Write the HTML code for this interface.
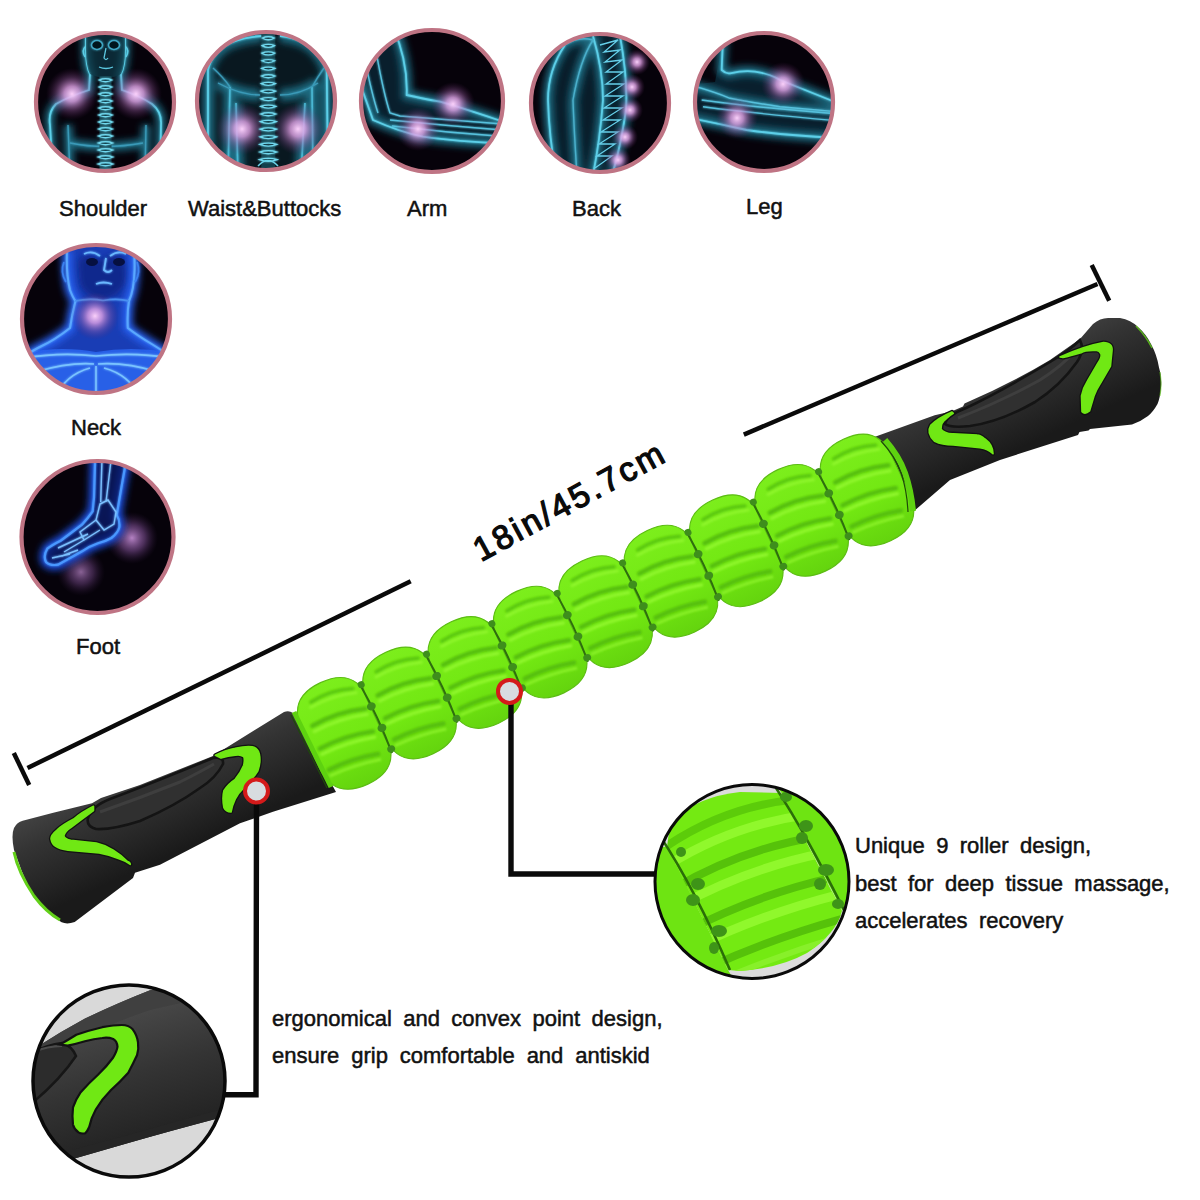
<!DOCTYPE html>
<html><head><meta charset="utf-8">
<style>
html,body{margin:0;padding:0;background:#fff;width:1200px;height:1200px;overflow:hidden}
svg{display:block;position:absolute;left:0;top:0}
text{font-family:"Liberation Sans",sans-serif;fill:#111}
</style></head><body>
<svg width="1200" height="1200" viewBox="0 0 1200 1200">
<defs>
  <filter id="glow" x="-50%" y="-50%" width="200%" height="200%"><feGaussianBlur stdDeviation="1.6" result="b"/><feMerge><feMergeNode in="b"/><feMergeNode in="SourceGraphic"/></feMerge></filter>
  <filter id="soft" x="-50%" y="-50%" width="200%" height="200%"><feGaussianBlur stdDeviation="3"/></filter>
  <radialGradient id="pink"><stop offset="0" stop-color="#f0b0f0" stop-opacity="1"/><stop offset="0.35" stop-color="#c880c8" stop-opacity="0.75"/><stop offset="1" stop-color="#80306a" stop-opacity="0"/></radialGradient>
  <clipPath id="c1"><circle cx="105" cy="102" r="68"/></clipPath>
  <clipPath id="c2"><circle cx="266" cy="101" r="68"/></clipPath>
  <clipPath id="c3"><circle cx="432" cy="101" r="70"/></clipPath>
  <clipPath id="c4"><circle cx="600" cy="103" r="68"/></clipPath>
  <clipPath id="c5"><circle cx="764" cy="102" r="68"/></clipPath>
  <clipPath id="c6"><circle cx="96" cy="319" r="73"/></clipPath>
  <clipPath id="c7"><circle cx="97.5" cy="537" r="75"/></clipPath>
  <clipPath id="zl"><circle cx="129" cy="1081" r="96"/></clipPath>
  <clipPath id="zrc"><path d="M667.5,848 Q667,830 677,818 Q697,797 740,792 L781,793 L842,911 Q836,934 807,953 Q780,968 740,971 L728,970 Z"/></clipPath>
  <clipPath id="zr"><circle cx="752" cy="881.5" r="97"/></clipPath>

  <linearGradient id="hgrad" x1="0" y1="0" x2="0" y2="1">
    <stop offset="0" stop-color="#3a3a3a"/><stop offset="0.45" stop-color="#2a2a2a"/><stop offset="1" stop-color="#1c1c1c"/>
  </linearGradient>
  <linearGradient id="rg" x1="0" y1="0" x2="0" y2="1"><stop offset="0" stop-color="#7cee1c"/><stop offset="0.6" stop-color="#72e812"/><stop offset="1" stop-color="#64d40e"/></linearGradient>
  <g id="seam"><path d="M35,-38 Q38,0 35,38" fill="none" stroke="#2e6e0e" stroke-width="2"/>
    <g fill="#3e8e1c">
      <ellipse cx="36" cy="-37" rx="3.5" ry="3.5"/><ellipse cx="36" cy="-13" rx="4.5" ry="4"/><ellipse cx="36.5" cy="11" rx="4.5" ry="4"/><ellipse cx="36" cy="34" rx="4" ry="3.5"/>
    </g></g>
  <g id="roller">
    <path d="M-37,-20 C-37,-47 -22,-56 0,-56 C22,-56 37,-47 37,-20 L37,20 C37,47 22,56 0,56 C-22,56 -37,47 -37,20 Z" fill="url(#rg)" stroke="#5cbc14" stroke-width="1.2"/>
    <g fill="none" stroke-linecap="round" transform="rotate(7)" filter="url(#gb)">
      <path d="M-22,-40 Q0,-46 22,-40" stroke="#5ac80a" stroke-width="3.5"/>
      <path d="M-24,-35 Q0,-40 24,-35" stroke="#92f82e" stroke-width="2.5"/>
      <path d="M-28,-17 Q0,-23 28,-17" stroke="#56c00a" stroke-width="4.5"/>
      <path d="M-28,-11 Q0,-16 28,-11" stroke="#92f82e" stroke-width="3"/>
      <path d="M-28,7 Q0,2 28,7" stroke="#56c00a" stroke-width="4.5"/>
      <path d="M-28,13 Q0,9 28,13" stroke="#92f82e" stroke-width="3"/>
      <path d="M-26,30 Q0,26 26,30" stroke="#56c00a" stroke-width="4.5"/>
      <path d="M-26,36 Q0,33 26,36" stroke="#8ef42c" stroke-width="2.5"/>
    </g>
    
  </g>

  <radialGradient id="pk2"><stop offset="0" stop-color="#fad0fa" stop-opacity="1"/><stop offset="0.3" stop-color="#e0a0e4" stop-opacity="0.8"/><stop offset="0.65" stop-color="#a060a8" stop-opacity="0.35"/><stop offset="1" stop-color="#602060" stop-opacity="0"/></radialGradient>
  <radialGradient id="tealbody" cx="0.5" cy="0.4" r="0.6"><stop offset="0" stop-color="#14505e"/><stop offset="1" stop-color="#082028"/></radialGradient>
  <filter id="cg" x="-30%" y="-30%" width="160%" height="160%"><feGaussianBlur stdDeviation="1.2" result="b"/><feMerge><feMergeNode in="b"/><feMergeNode in="SourceGraphic"/></feMerge></filter>

  <filter id="wide" x="-30%" y="-30%" width="160%" height="160%"><feGaussianBlur stdDeviation="3.5"/></filter>

  <radialGradient id="faceg" cx="0.5" cy="0.45" r="0.55"><stop offset="0" stop-color="#0c1c6a"/><stop offset="0.7" stop-color="#1a3ab8"/><stop offset="1" stop-color="#2f6ae8"/></radialGradient>
  <linearGradient id="chestg" x1="0" y1="0" x2="0" y2="1"><stop offset="0" stop-color="#2a60e0"/><stop offset="1" stop-color="#1436a8"/></linearGradient>
  <radialGradient id="pk3"><stop offset="0" stop-color="#c890d8" stop-opacity="0.9"/><stop offset="0.5" stop-color="#905aa8" stop-opacity="0.5"/><stop offset="1" stop-color="#402050" stop-opacity="0"/></radialGradient>
  <filter id="gb" x="-20%" y="-20%" width="140%" height="140%"><feGaussianBlur stdDeviation="0.9"/></filter>
  <linearGradient id="lh" gradientUnits="userSpaceOnUse" x1="149" y1="755" x2="191" y2="845"><stop offset="0" stop-color="#444444"/><stop offset="0.35" stop-color="#333333"/><stop offset="0.7" stop-color="#262626"/><stop offset="1" stop-color="#1a1a1a"/></linearGradient>
  <linearGradient id="rh" gradientUnits="userSpaceOnUse" x1="989" y1="352" x2="1031" y2="443"><stop offset="0" stop-color="#444444"/><stop offset="0.35" stop-color="#333333"/><stop offset="0.7" stop-color="#262626"/><stop offset="1" stop-color="#1a1a1a"/></linearGradient>
  <linearGradient id="zg" gradientUnits="userSpaceOnUse" x1="110" y1="1010" x2="150" y2="1140"><stop offset="0" stop-color="#4a4a4a"/><stop offset="0.5" stop-color="#343434"/><stop offset="1" stop-color="#222222"/></linearGradient>
</defs>

<!-- ===== BODY CIRCLES ===== -->
<g id="bodies">
  <circle cx="105" cy="102" r="69.5" fill="#06020a"/>
  <circle cx="266" cy="101" r="69.5" fill="#06020a"/>
  <circle cx="432" cy="101" r="71.5" fill="#06020a"/>
  <circle cx="600" cy="103" r="69.5" fill="#06020a"/>
  <circle cx="764" cy="102" r="69.5" fill="#06020a"/>
  <circle cx="96" cy="319" r="74.5" fill="#06020a"/>
  <circle cx="97.5" cy="537" r="76.5" fill="#06020a"/>

  <!-- 1 shoulder -->
  <g clip-path="url(#c1)">
    <g fill="none" stroke="#1e6a80" stroke-width="9" filter="url(#wide)">
      <path d="M86,34 L86,50 Q86,66 90,74 L89,90 Q70,96 56,104 Q48,112 50,125 L53,175 M125,34 L125,50 Q125,66 121,74 L122,90 Q140,96 152,104 Q162,112 161,125 L160,175 M68,125 L70,175 M146,125 L145,175 M70,143 Q104,150 143,143"/>
    </g>
    <g fill="none" stroke="#5ccfe8" stroke-width="1.8" filter="url(#cg)">
      <path d="M86,30 L86,50 Q86,66 90,74 L89,90 Q70,96 56,104 Q48,112 50,125 L53,175 M125,30 L125,50 Q125,66 121,74 L122,90 Q140,96 152,104 Q162,112 161,125 L160,175"/>
      <path d="M68,125 L70,175 M146,125 L145,175 M70,143 Q104,150 143,143" stroke="#3a9ab8" stroke-width="1.4"/>
      <path d="M86,46 Q81,50 85,57 M125,46 Q130,50 126,57" stroke-width="1.4"/>
    </g>
    <path d="M86,30 L86,50 Q86,66 90,74 Q98,78 106,78 Q114,78 121,74 Q125,66 125,50 L125,30 Z" fill="#0e3a48" opacity="0.7"/>
    <g fill="#06141a" stroke="#3fa8c4" stroke-width="1.6" filter="url(#cg)">
      <ellipse cx="97" cy="45" rx="5.5" ry="4.5"/><ellipse cx="114" cy="45" rx="5.5" ry="4.5"/>
    </g>
    <path d="M106,48 L104,58 Q106,61 108,58 M99,67 Q106,70 113,67" fill="none" stroke="#5cc8e0" stroke-width="1.3"/>
    <circle cx="72" cy="94" r="26" fill="url(#pk2)"/><circle cx="136" cy="94" r="26" fill="url(#pk2)"/>
    <path d="M105.5,76 L105.5,172" stroke="#12404c" stroke-width="12"/><g fill="#12404c" stroke="#70d8ee" stroke-width="1.3" filter="url(#cg)"><path d="M99.0,80.0 Q105.5,77.5 112.0,80.0 Q105.5,83.5 99.0,80.0 Z"/><path d="M98.9,87.0 Q105.5,84.5 112.1,87.0 Q105.5,90.5 98.9,87.0 Z"/><path d="M98.8,94.0 Q105.5,91.5 112.2,94.0 Q105.5,97.5 98.8,94.0 Z"/><path d="M98.7,101.0 Q105.5,98.5 112.3,101.0 Q105.5,104.5 98.7,101.0 Z"/><path d="M98.6,108.0 Q105.5,105.5 112.4,108.0 Q105.5,111.5 98.6,108.0 Z"/><path d="M98.5,115.0 Q105.5,112.5 112.5,115.0 Q105.5,118.5 98.5,115.0 Z"/><path d="M98.4,122.0 Q105.5,119.5 112.6,122.0 Q105.5,125.5 98.4,122.0 Z"/><path d="M98.3,129.0 Q105.5,126.5 112.7,129.0 Q105.5,132.5 98.3,129.0 Z"/><path d="M98.2,136.0 Q105.5,133.5 112.8,136.0 Q105.5,139.5 98.2,136.0 Z"/><path d="M98.1,143.0 Q105.5,140.5 112.9,143.0 Q105.5,146.5 98.1,143.0 Z"/><path d="M98.0,150.0 Q105.5,147.5 113.0,150.0 Q105.5,153.5 98.0,150.0 Z"/><path d="M97.9,157.0 Q105.5,154.5 113.1,157.0 Q105.5,160.5 97.9,157.0 Z"/><path d="M97.8,164.0 Q105.5,161.5 113.2,164.0 Q105.5,167.5 97.8,164.0 Z"/><path d="M97.7,171.0 Q105.5,168.5 113.3,171.0 Q105.5,174.5 97.7,171.0 Z"/></g>
  </g>

  <!-- 2 waist -->
  <g clip-path="url(#c2)">
    <path d="M200,180 L208,70 Q212,52 230,43 Q245,37 262,36 L274,36 Q292,37 303,41.7 Q320,50 326.7,70 L332,180 Z" fill="#0a1e26" opacity="0.8"/>
    <g fill="none" stroke="#1e6a80" stroke-width="12" filter="url(#wide)">
      <path d="M208,175 L208,70 Q212,52 230,43 Q245,37 262,36 M328,175 L326.7,70 Q320,50 303,41.7 Q292,37 280,36 M230,87 L228,175 M312,87 L313,175 M236,103 L238,175 M305,103 L301,175 M218,83 Q240,95 260,95 M318,83 Q300,95 280,95"/>
    </g>
    <g fill="none" stroke="#5ccfe8" stroke-width="1.8" filter="url(#cg)">
      <path d="M208,175 L208,70 Q212,52 230,43 Q245,37 262,36 M328,175 L326.7,70 Q320,50 303,41.7 Q292,37 280,36"/>
      <path d="M230,87 L228,175 M312,87 L313,175 M236,103 L238,175 M305,103 L301,175" stroke="#4ab8d4" stroke-width="1.6"/>
      <path d="M218,83 Q240,95 260,95 M318,83 Q300,95 280,95 M213,68 Q224,78 230,87 M324,68 Q317,78 312,87" stroke="#3a9ab8" stroke-width="1.4"/>
    </g>
    <circle cx="242" cy="129" r="26" fill="url(#pk2)"/><circle cx="298" cy="129" r="26" fill="url(#pk2)"/>
    <path d="M268.3,34 L268.3,168" stroke="#12404c" stroke-width="14"/>
    <g fill="#12404c" stroke="#70d8ee" stroke-width="1.3" filter="url(#cg)"><path d="M262.3,38.0 Q268.3,35.5 274.3,38.0 Q268.3,41.5 262.3,38.0 Z"/><path d="M262.1,45.6 Q268.3,43.1 274.5,45.6 Q268.3,49.1 262.1,45.6 Z"/><path d="M261.9,53.2 Q268.3,50.7 274.7,53.2 Q268.3,56.7 261.9,53.2 Z"/><path d="M261.8,60.8 Q268.3,58.3 274.8,60.8 Q268.3,64.3 261.8,60.8 Z"/><path d="M261.6,68.4 Q268.3,65.9 275.0,68.4 Q268.3,71.9 261.6,68.4 Z"/><path d="M261.4,76.0 Q268.3,73.5 275.2,76.0 Q268.3,79.5 261.4,76.0 Z"/><path d="M261.2,83.6 Q268.3,81.1 275.4,83.6 Q268.3,87.1 261.2,83.6 Z"/><path d="M261.0,91.2 Q268.3,88.7 275.6,91.2 Q268.3,94.7 261.0,91.2 Z"/><path d="M260.9,98.8 Q268.3,96.3 275.7,98.8 Q268.3,102.3 260.9,98.8 Z"/><path d="M260.7,106.4 Q268.3,103.9 275.9,106.4 Q268.3,109.9 260.7,106.4 Z"/><path d="M260.5,114.0 Q268.3,111.5 276.1,114.0 Q268.3,117.5 260.5,114.0 Z"/><path d="M260.3,121.6 Q268.3,119.1 276.3,121.6 Q268.3,125.1 260.3,121.6 Z"/><path d="M260.1,129.2 Q268.3,126.7 276.5,129.2 Q268.3,132.7 260.1,129.2 Z"/><path d="M260.0,136.8 Q268.3,134.3 276.6,136.8 Q268.3,140.3 260.0,136.8 Z"/><path d="M259.8,144.4 Q268.3,141.9 276.8,144.4 Q268.3,147.9 259.8,144.4 Z"/><path d="M259.6,152.0 Q268.3,149.5 277.0,152.0 Q268.3,155.5 259.6,152.0 Z"/><path d="M259.4,159.6 Q268.3,157.1 277.2,159.6 Q268.3,163.1 259.4,159.6 Z"/></g>
    <path d="M258,166 Q268,155 278,166" fill="none" stroke="#6ad4ea" stroke-width="1.5"/>
  </g>

  <!-- 3 arm -->
  <g clip-path="url(#c3)">
    <path d="M392,25 Q408,60 406.7,95 Q420,98 440,101.7 Q456,106 498,120 L515,124 L515,144 Q460,142 423,136.7 Q400,132 373,120 Q366,100 358,78 L350,25 Z" fill="#0c3444" opacity="0.6"/>
    <g fill="none" stroke="#1e6a80" stroke-width="10" filter="url(#wide)">
      <path d="M395,30 Q408,60 406.7,95 Q420,98 440,101.7 Q456,106 498,120 L515,124 M360,80 Q368,100 373,120 Q400,132 423,136.7 Q460,142 515,144"/>
    </g>
    <g fill="none" stroke="#5ccfe8" stroke-width="1.8" filter="url(#cg)">
      <path d="M392,25 Q408,60 406.7,95 Q420,98 440,101.7 Q456,106 498,120 L515,124 M358,78 Q366,100 373,120 Q400,132 423,136.7 Q460,142 515,144"/>
      <path d="M365,60 Q372,95 378,113 M376.7,55 Q384,95 390,113 L400,116 Q450,120 515,125 M390,120 Q450,126 515,131 M392,126 Q450,133 510,137" stroke="#56c0dc" stroke-width="1.4"/>
    </g>
    <circle cx="453" cy="104" r="22" fill="url(#pk2)"/><circle cx="418" cy="129" r="22" fill="url(#pk2)"/>
  </g>

  <!-- 4 back -->
  <g clip-path="url(#c4)">
    <path d="M565,45 Q548,70 548,100 Q549,136 556,175 L612,175 Q620,150 626,110 Q628,80 620,30 L590,30 Q575,36 565,45 Z" fill="#0c3040" opacity="0.6"/>
    <g fill="none" stroke="#1e6a80" stroke-width="10" filter="url(#wide)">
      <path d="M565,45 Q548,70 548,100 Q549,136 556,175 M573,100 Q574,130 577,175 M593,36 Q603,70 603,100 Q600,140 593,175 M620,36 Q628,80 626,110 Q620,150 612,175 M565,45 Q578,36 593,40 Q580,60 573,100"/>
    </g>
    <g fill="none" stroke="#5ccfe8" stroke-width="1.8" filter="url(#cg)">
      <path d="M565,45 Q548,70 548,100 Q549,136 556,175 M593,36 Q603,70 603,100 Q600,140 593,175 M620,36 Q628,80 626,110 Q620,150 612,175"/>
      <path d="M573,100 Q574,130 577,175 M565,45 Q578,36 593,40 Q580,60 573,100" stroke="#4ab0cc" stroke-width="1.4"/>
    </g>
    <g stroke="#66d0ea" stroke-width="1.3" fill="none">
      <path d="M600,45 L618,40 L604,52 L620,50 L605,62 L622,60 L606,72 L623,72 L606,84 L624,84 L605,96 L623,96 L604,108 L622,108 L603,120 L620,120 L601,132 L618,132 L599,144 L615,144 L597,156 L612,156 L595,168"/>
    </g>
    <circle cx="637" cy="62" r="13" fill="url(#pk2)"/><circle cx="632" cy="87" r="13" fill="url(#pk2)"/><circle cx="630" cy="110" r="13" fill="url(#pk2)"/><circle cx="625" cy="137" r="13" fill="url(#pk2)"/><circle cx="618" cy="160" r="13" fill="url(#pk2)"/>
  </g>

  <!-- 5 leg -->
  <g clip-path="url(#c5)">
    <path d="M723,40 Q722,60 721.7,70 Q726,74 730,73.3 Q745,70 755,71.7 Q770,74 780,80 Q810,92 840,104 L840,138 Q790,136 746.7,130 Q720,124 690,118 L690,85 L715,82 Z" fill="#0c3444" opacity="0.6"/>
    <g fill="none" stroke="#1e6a80" stroke-width="10" filter="url(#wide)">
      <path d="M723,40 Q722,60 721.7,70 Q726,74 730,73.3 Q745,70 755,71.7 Q770,74 780,80 Q810,92 840,104 M690,85 Q715,92 730,98.3 Q760,104 780,106.7 L840,112 M690,118 Q720,124 746.7,130 Q790,136 840,138"/>
    </g>
    <g fill="none" stroke="#5ccfe8" stroke-width="1.8" filter="url(#cg)">
      <path d="M723,40 Q722,60 721.7,70 Q726,74 730,73.3 Q745,70 755,71.7 Q770,74 780,80 Q810,92 840,104 M690,118 Q720,124 746.7,130 Q790,136 840,138"/>
      <path d="M690,85 Q715,92 730,98.3 Q760,104 780,106.7 L840,112 M701.7,100 Q760,108 840,114 M703,106.7 Q760,114 840,121" stroke="#56c0dc" stroke-width="1.4"/>
    </g>
    <circle cx="783" cy="84" r="22" fill="url(#pk2)"/><circle cx="737" cy="118" r="21" fill="url(#pk2)"/>
  </g>

  <!-- 6 neck -->
  <g clip-path="url(#c6)">
    <path d="M67,250 Q66,275 70,290 Q73,298 75.5,301 Q72,315 70,328 Q55,340 39.8,347 Q30,352 15,362 L15,400 L180,400 L178,362 Q165,352 152.5,344.5 Q138,336 127.8,328 Q127,312 129,301 Q134,290 134.6,270 Q135,255 133,244 L70,244 Z" fill="#1c44c8" opacity="0.9"/>
    <path d="M78,262 Q86,252 92,256 Q100,262 106,258 Q114,252 122,258 Q128,266 126,282 Q120,296 103,300 Q86,298 80,284 Z" fill="#0e2480" opacity="0.75" filter="url(#soft)"/>
    <path d="M15,354 Q60,345 96,352 Q135,345 180,354 L180,400 L15,400 Z" fill="#2a64ec" opacity="0.9"/>
    <g fill="none" stroke="#2860f0" stroke-width="10" filter="url(#wide)">
      <path d="M67,250 Q66,275 70,290 Q73,298 75.5,301 Q72,315 70,328 Q55,340 39.8,347 Q30,352 15,362 M133,244 Q135,255 134.6,270 Q134,290 129,301 Q127,312 127.8,328 Q138,336 152.5,344.5 Q165,352 178,362"/>
    </g>
    <g fill="none" stroke="#5aa8ff" stroke-width="2" filter="url(#cg)">
      <path d="M67,250 Q66,275 70,290 Q73,298 75.5,301 Q72,315 70,328 Q55,340 39.8,347 Q30,352 15,362 M133,244 Q135,255 134.6,270 Q134,290 129,301 Q127,312 127.8,328 Q138,336 152.5,344.5 Q165,352 178,362"/>
      <path d="M25,358 Q60,352 96,356 Q135,352 170,358 M35,372 Q70,362 94,364 M158,372 Q125,362 98,364 M55,398 Q65,375 90,368 M140,398 Q130,375 104,368 M96,366 L96,400" stroke="#7ac4ff" stroke-width="1.6"/>
      <path d="M75,301 Q90,298 103,300.5 Q118,298 129,301" stroke="#4a90f0" stroke-width="1.6"/>
    </g>
    <g fill="none" stroke="#6ab8ff" stroke-width="1.8" filter="url(#cg)">
      <path d="M84,254 Q92,250 100,256 M110,256 Q118,250 126,254 M106,258 L104,270 Q108,274 112,270 M96,284 Q103,281 112,284"/>
      <path d="M64,262 Q60,272 66,282 M137,262 Q141,272 135,282" stroke="#3a80f0"/>
    </g>
    <g fill="#061040"><ellipse cx="92" cy="262" rx="6" ry="4"/><ellipse cx="119" cy="262" rx="6" ry="4"/></g>
    <circle cx="95" cy="316" r="24" fill="url(#pk2)"/>
  </g>

  <!-- 7 foot -->
  <g clip-path="url(#c7)">
    <circle cx="132" cy="538" r="26" fill="url(#pk3)"/><circle cx="81" cy="572" r="24" fill="url(#pk3)" opacity="0.75"/>
    <g fill="none" stroke="#1e50e0" stroke-width="10" filter="url(#wide)"><path d="M95.3,455 L94,498 Q93,507 92.7,511.3 Q88,518 82,524.7 L60.7,540.7 Q52,545 47.3,548.7 Q43,556 46,562 Q50,566 58,564.7 L82,551.3 Q90,546 98,543.3 Q106,541 111.3,538 Q118,533 119.3,527.3 Q120,520 116.7,515 Q120,495 124.7,468.7 L125,455"/></g>
    <path d="M95.3,455 L94,498 Q93,507 92.7,511.3 Q88,518 82,524.7 L60.7,540.7 Q52,545 47.3,548.7 Q43,556 46,562 Q50,566 58,564.7 L82,551.3 Q90,546 98,543.3 Q106,541 111.3,538 Q118,533 119.3,527.3 Q120,520 116.7,515 Q120,495 124.7,468.7 L125,455 Z" fill="#0a1a68" opacity="0.8"/>
    <g fill="none" stroke="#4a98ff" stroke-width="2.2" filter="url(#cg)"><path d="M95.3,455 L94,498 Q93,507 92.7,511.3 Q88,518 82,524.7 L60.7,540.7 Q52,545 47.3,548.7 Q43,556 46,562 Q50,566 58,564.7 L82,551.3 Q90,546 98,543.3 Q106,541 111.3,538 Q118,533 119.3,527.3 Q120,520 116.7,515 Q120,495 124.7,468.7 L125,455"/></g>
    <g fill="none" stroke="#7ac0ff" stroke-width="1.4" filter="url(#cg)">
      <path d="M102,458 L100.7,502 M111.3,458 L106,502 M100,504 L108,500 L116,512 L114,524 L104,530 L96,520 Z M96,520 L80,532 L84,540 L100,530 M84,540 L64,552 M88,534 L58,548 M62,556 L78,550 M52,558 L70,554"/>
    </g>
  </g>

  <g fill="none" stroke="#bf7484" stroke-width="4.2">
    <circle cx="105" cy="102" r="69"/><circle cx="266" cy="101" r="69"/><circle cx="432" cy="101" r="71"/><circle cx="600" cy="103" r="69"/><circle cx="764" cy="102" r="69"/><circle cx="96" cy="319" r="74"/><circle cx="97.5" cy="537" r="76"/>
  </g>
</g>

<!-- labels -->
<g font-size="22" style="stroke:#111;stroke-width:0.5">
  <text x="59" y="215.5">Shoulder</text>
  <text x="188" y="215.5">Waist&amp;Buttocks</text>
  <text x="407" y="215.5">Arm</text>
  <text x="572" y="215.5">Back</text>
  <text x="746" y="213.5">Leg</text>
  <text x="71" y="435">Neck</text>
  <text x="76" y="653.5">Foot</text>
</g>

<!-- dimension lines -->
<g stroke="#0a0a0a" stroke-width="4.5" fill="none">
  <line x1="27.5" y1="768" x2="410.7" y2="581.3"/>
  <line x1="13.8" y1="753" x2="29.2" y2="785"/>
  <line x1="743.8" y1="434.6" x2="1097.5" y2="284"/>
  <line x1="1091.7" y1="265" x2="1109.2" y2="300.8"/>
</g>
<text transform="translate(481,562) rotate(-28.5)" font-size="33.5" letter-spacing="2.9" style="fill:#0a0a0a;stroke:#0a0a0a;stroke-width:1.3">18in/45.7cm</text>

<!-- STICK placeholder -->
<g id="stick">
  <!-- left handle -->
  <path d="M22.7,820.7 L53.3,812.7 L92,803.3 L101,798 L140,785 L203,760 L213,756 L284,712 Q289,710 293,713 L336,792 L273,811.7 L240,823.3 L160,864.7 L135,872.7 L133,878 L74.7,922 Q63,926 57.3,918.5 Q48,912 40,903.3 Q28,888 21.3,870 L14,850 Q11,835 14,828 Q17,822 22.7,820.7 Z" fill="url(#lh)"/>
  <!-- right handle -->
  <path d="M866,440 L934.7,415.3 L952,411.3 L963,406.5 L964.5,403.5 Q1010,384 1050,360 L1080,339 L1093,324 Q1100,318 1108,318 L1120,318 Q1131,320 1138,327 Q1146,334 1151,344 Q1157,355 1159,367.5 Q1162,376 1161,388 Q1160,398 1157.5,404 Q1153,412 1148,416 Q1140,422 1132,424.5 L1090,429 L1088.5,430.5 L1079.5,432 L1078,435 L1000,460 L950,480 L906,518 Z" fill="url(#rh)"/>
  <!-- grip ridges -->
  <path d="M88,818 Q92,806 110,799 Q150,784 213,758 Q224,756 223,764 Q216,778 200,788 Q175,806 140,821 Q112,830 96,829 Q86,826 88,818 Z" fill="#303030" stroke="#141414" stroke-width="2.6"/>
  <path d="M100,812 Q140,798 180,782 Q200,772 214,764" fill="none" stroke="#3e3e3e" stroke-width="3"/>
  <path d="M966,408 Q1000,392 1050,362 Q1070,350 1080,340 Q1085,350 1077,362 Q1060,386 1035,402 Q1000,422 970,426 Q950,428 945,424 Q946,416 966,408 Z" fill="#303030" stroke="#141414" stroke-width="2.6"/>
  <path d="M958,418 Q1000,402 1040,380 Q1062,366 1074,352" fill="none" stroke="#3e3e3e" stroke-width="3"/>
  <path d="M93.5,806.3 Q82,812 73.7,819 Q62,825 56.7,830.3 Q51,835 51,838.8 Q52,844 55.3,846 Q60,849 68,850.2 L99.2,853 Q110,855 119,858.7 Q126,861 130.3,864.3 Q130,862 127.5,861.5 Q121,855 113.3,850.2 Q105,845 96.3,843.1 L70.8,840.3 Q65,839 63.8,836 Q65,831 70.8,827.5 Q82,819 93.5,810.5 Z" fill="#70e814" stroke="#121212" stroke-width="4.2" stroke-linejoin="round"/>
  <path d="M93.5,806.3 Q82,812 73.7,819 Q62,825 56.7,830.3 Q51,835 51,838.8 Q52,844 55.3,846 Q60,849 68,850.2 L99.2,853 Q110,855 119,858.7 Q126,861 130.3,864.3 Q130,862 127.5,861.5 Q121,855 113.3,850.2 Q105,845 96.3,843.1 L70.8,840.3 Q65,839 63.8,836 Q65,831 70.8,827.5 Q82,819 93.5,810.5 Z" fill="#70e814" stroke="#70e814" stroke-width="1.6" stroke-linejoin="round"/>
  <path d="M215.4,755.3 Q225,750 235.2,748.2 Q246,746 252.2,746.8 Q258,748 259.3,753.8 Q261,762 257.9,770.8 Q252,780 243.7,787.8 Q238,793 235.2,799.2 Q232,806 231,812 Q226,812 223.9,807.7 Q222,798 223.9,790.7 Q228,784 235.2,779.3 Q241,772 243.7,765.2 Q245,759 243.7,756.7 Q240,754 235.2,755.3 Q228,756 221,758.1 Z" fill="#70e814" stroke="#121212" stroke-width="4.2" stroke-linejoin="round"/>
  <path d="M215.4,755.3 Q225,750 235.2,748.2 Q246,746 252.2,746.8 Q258,748 259.3,753.8 Q261,762 257.9,770.8 Q252,780 243.7,787.8 Q238,793 235.2,799.2 Q232,806 231,812 Q226,812 223.9,807.7 Q222,798 223.9,790.7 Q228,784 235.2,779.3 Q241,772 243.7,765.2 Q245,759 243.7,756.7 Q240,754 235.2,755.3 Q228,756 221,758.1 Z" fill="#70e814" stroke="#70e814" stroke-width="1.6" stroke-linejoin="round"/>
  <path d="M952,412 Q938,418 930.7,425.3 Q926,433 934.7,441.3 Q942,445 953.3,445 L980,447.7 Q988,449 993,453.7 Q993,445 985,439 Q980,435 977.3,435 L953.3,433.7 Q945,434 941,429.3 Q941,422 946,419 Q950,415 953.3,413.3 Z" fill="#70e814" stroke="#121212" stroke-width="4.2" stroke-linejoin="round"/>
  <path d="M952,412 Q938,418 930.7,425.3 Q926,433 934.7,441.3 Q942,445 953.3,445 L980,447.7 Q988,449 993,453.7 Q993,445 985,439 Q980,435 977.3,435 L953.3,433.7 Q945,434 941,429.3 Q941,422 946,419 Q950,415 953.3,413.3 Z" fill="#70e814" stroke="#70e814" stroke-width="1.6" stroke-linejoin="round"/>
  <path d="M1060,357 Q1084,346 1103.5,342.5 Q1113,343 1112,351 Q1111,360 1110.5,366 L1100,384 Q1096,390 1094,396 L1089.5,411 Q1085,415 1082,411.75 L1081.5,396 Q1083,388 1087.5,381 L1098,363 Q1102,357 1101,354 Q1099,350 1096,350.5 Q1085,350 1081,352.75 Q1070,356 1063,357.5 Z" fill="#70e814" stroke="#121212" stroke-width="4.2" stroke-linejoin="round"/>
  <path d="M1060,357 Q1084,346 1103.5,342.5 Q1113,343 1112,351 Q1111,360 1110.5,366 L1100,384 Q1096,390 1094,396 L1089.5,411 Q1085,415 1082,411.75 L1081.5,396 Q1083,388 1087.5,381 L1098,363 Q1102,357 1101,354 Q1099,350 1096,350.5 Q1085,350 1081,352.75 Q1070,356 1063,357.5 Z" fill="#70e814" stroke="#70e814" stroke-width="1.6" stroke-linejoin="round"/>
  <path d="M14,852 Q18,872 34,896 Q46,912 60,920" fill="none" stroke="#62d018" stroke-width="3"/>
  <path d="M1136,326 Q1146,336 1152,348" fill="none" stroke="#62d018" stroke-width="1.5" opacity="0.8"/>
  <path d="M1160,372 Q1162,384 1160,396" fill="none" stroke="#62d018" stroke-width="1.2" opacity="0.6"/>
  <use href="#roller" transform="translate(344.2,733.4) rotate(-25)"/>
  <use href="#roller" transform="translate(409.5,703.0) rotate(-25)"/>
  <use href="#roller" transform="translate(474.9,672.5) rotate(-25)"/>
  <use href="#roller" transform="translate(540.2,642.1) rotate(-25)"/>
  <use href="#roller" transform="translate(605.6,611.7) rotate(-25)"/>
  <use href="#roller" transform="translate(671.0,581.2) rotate(-25)"/>
  <use href="#roller" transform="translate(736.3,550.8) rotate(-25)"/>
  <use href="#roller" transform="translate(801.6,520.4) rotate(-25)"/>
  <use href="#roller" transform="translate(867.0,490.0) rotate(-25)"/>
  <use href="#seam" transform="translate(344.2,733.4) rotate(-25)"/>
  <use href="#seam" transform="translate(409.5,703.0) rotate(-25)"/>
  <use href="#seam" transform="translate(474.9,672.5) rotate(-25)"/>
  <use href="#seam" transform="translate(540.2,642.1) rotate(-25)"/>
  <use href="#seam" transform="translate(605.6,611.7) rotate(-25)"/>
  <use href="#seam" transform="translate(671.0,581.2) rotate(-25)"/>
  <use href="#seam" transform="translate(736.3,550.8) rotate(-25)"/>
  <use href="#seam" transform="translate(801.6,520.4) rotate(-25)"/>
  <!-- junction rings -->
  <path d="M294,712 L331,787" fill="none" stroke="#5ed210" stroke-width="5"/>
  <path d="M291,715 L327,788" fill="none" stroke="#1e4a0a" stroke-width="1.2"/>
  <path d="M885,440 Q899,456 905,473 Q911,490 913,511" fill="none" stroke="#5ed210" stroke-width="6"/>
  <path d="M881,441 Q895,456 901,473 Q907,490 908,512" fill="none" stroke="#1e4a0a" stroke-width="1.2"/>
</g>

<!-- callout lines -->
<g stroke="#0a0a0a" stroke-width="5.4" fill="none" stroke-linejoin="miter">
  <polyline points="256.5,800 256,1094.8 224,1094.8"/>
  <polyline points="511,700 511,874 656,874"/>
</g>
<g>
  <circle cx="256.5" cy="791" r="11.5" fill="#d8dce0" stroke="#d41a1a" stroke-width="4"/>
  <circle cx="509.5" cy="691.4" r="11.5" fill="#d8dce0" stroke="#d41a1a" stroke-width="4"/>
</g>

<!-- zoom circles placeholder -->
<g id="zooms">
  <g clip-path="url(#zl)">
    <rect x="30" y="980" width="200" height="200" fill="#d9d9d9"/>
    <path d="M20,1052 L37.3,1046.7 Q60,1032 85,1018.5 Q120,1002 150,990.3 L175,986 L240,975 L240,1112 L219.3,1118 Q170,1131 128.3,1143 L72,1159.3 L20,1175 Z" fill="url(#zg)"/>
    <path d="M30,1050 L37.3,1046.7 Q60,1032 85,1018.5 Q120,1002 150,990.3 L175,986 L240,975 L240,992 Q190,1000 150,1010 Q100,1027 60,1048 Z" fill="#404040"/>
    <path d="M72,1150 L128.3,1135 Q170,1123 219.3,1110 L240,1104 L240,1112 L219.3,1118 Q170,1131 128.3,1143 L72,1159.3 Z" fill="#262626"/>
    <path d="M20,1060 Q40,1046 62,1043 Q72,1046 76,1056 Q60,1080 30,1105 L20,1110 Z" fill="#2c2c2c" stroke="#161616" stroke-width="2.5"/>
    <path d="M24,1056 Q44,1046 62,1046" fill="none" stroke="#4c4c4c" stroke-width="2"/>
    <path d="M60,1044.5 Q68,1040 76.3,1034.8 Q90,1030 102.3,1027.2 Q114,1025 121.8,1025 Q129,1025 132.7,1029.3 Q137,1035 138,1042.3 Q139,1049 137,1055.3 Q133,1064 128.3,1072.7 Q120,1082 111,1090 Q102,1099 95.8,1109.5 Q91,1118 89.3,1126.8 Q87,1132 85,1133.3 Q81,1134 78.5,1132.3 Q74,1129 73,1124.7 Q72,1115 73,1107.3 Q76,1099 80.7,1092.2 Q89,1083 98,1074.8 Q107,1066 113.2,1057.5 Q117,1051 117.5,1046.7 Q117,1041 113.2,1039 Q108,1037 102.3,1038 Q94,1039 85,1041.3 Q76,1044 67.7,1045.6 Z" fill="#70e814" stroke="#121212" stroke-width="2.2"/>
  </g>
  <circle cx="129" cy="1081" r="96" fill="none" stroke="#0a0a0a" stroke-width="3.5"/>

  <g clip-path="url(#zr)">
    <rect x="650" y="780" width="205" height="205" fill="#dcdcdc"/>
    <path d="M640,852 Q655,846 667.5,847 L728,970 L740,990 L640,990 Z" fill="#6ee412"/>
    <path d="M772,780 L781,792 L841.7,909.3 L862,935 L862,770 Z" fill="#6ee412"/>
    <path d="M667.5,848 Q667,830 677,818 Q697,797 740,792 L781,793 L842,911 Q836,934 807,953 Q780,968 740,971 L728,970 Z" fill="#74ea12"/>
    <g clip-path="url(#zrc)"><g transform="translate(752,881.5) rotate(-20)" fill="none" stroke-linecap="round">
      <path d="M-70,-62 Q0,-80 70,-62" stroke="#5ccc0a" stroke-width="8"/>
      <path d="M-74,-44 Q0,-60 74,-44" stroke="#90f82c" stroke-width="9"/>
      <path d="M-76,-20 Q0,-34 76,-20" stroke="#56c20a" stroke-width="8"/>
      <path d="M-78,-2 Q0,-14 78,-2" stroke="#90f82c" stroke-width="9"/>
      <path d="M-78,24 Q0,14 78,24" stroke="#56c20a" stroke-width="8"/>
      <path d="M-78,42 Q0,34 78,42" stroke="#90f82c" stroke-width="9"/>
      <path d="M-74,66 Q0,60 74,66" stroke="#56c20a" stroke-width="8"/>
      <path d="M-70,82 Q0,78 70,82" stroke="#88f02a" stroke-width="6"/>
    </g></g>
    
    
    <path d="M660,836 Q695,889 730,970" fill="none" stroke="#2a6e08" stroke-width="2.5"/>
    <path d="M776,788 Q806,834 846,914" fill="none" stroke="#2a6e08" stroke-width="2.5"/>
    <g fill="#3e9418">
      <ellipse cx="681" cy="852" rx="5" ry="5"/><ellipse cx="698" cy="884" rx="7" ry="6"/><ellipse cx="693" cy="900" rx="7" ry="6"/>
      <ellipse cx="719" cy="931" rx="8" ry="6"/><ellipse cx="714" cy="948" rx="5" ry="6"/>
      <ellipse cx="786" cy="797" rx="6" ry="5"/><ellipse cx="806" cy="826" rx="7" ry="6"/><ellipse cx="802" cy="838" rx="6" ry="6"/>
      <ellipse cx="826" cy="870" rx="8" ry="6"/><ellipse cx="820" cy="884" rx="6" ry="6"/><ellipse cx="838" cy="904" rx="6" ry="5"/>
    </g>
  </g>
  <circle cx="752" cy="881.5" r="97" fill="none" stroke="#0a0a0a" stroke-width="3"/>
</g>

<!-- paragraphs -->
<g font-size="22" word-spacing="5.3" style="stroke:#111;stroke-width:0.5">
  <text x="855" y="853">Unique 9 roller design,</text>
  <text x="855" y="890.5">best for deep tissue massage,</text>
  <text x="855" y="928">accelerates recovery</text>
  <text x="272" y="1026">ergonomical and convex point design,</text>
  <text x="272" y="1063" word-spacing="5.8">ensure grip comfortable and antiskid</text>
</g>
</svg>
</body></html>
